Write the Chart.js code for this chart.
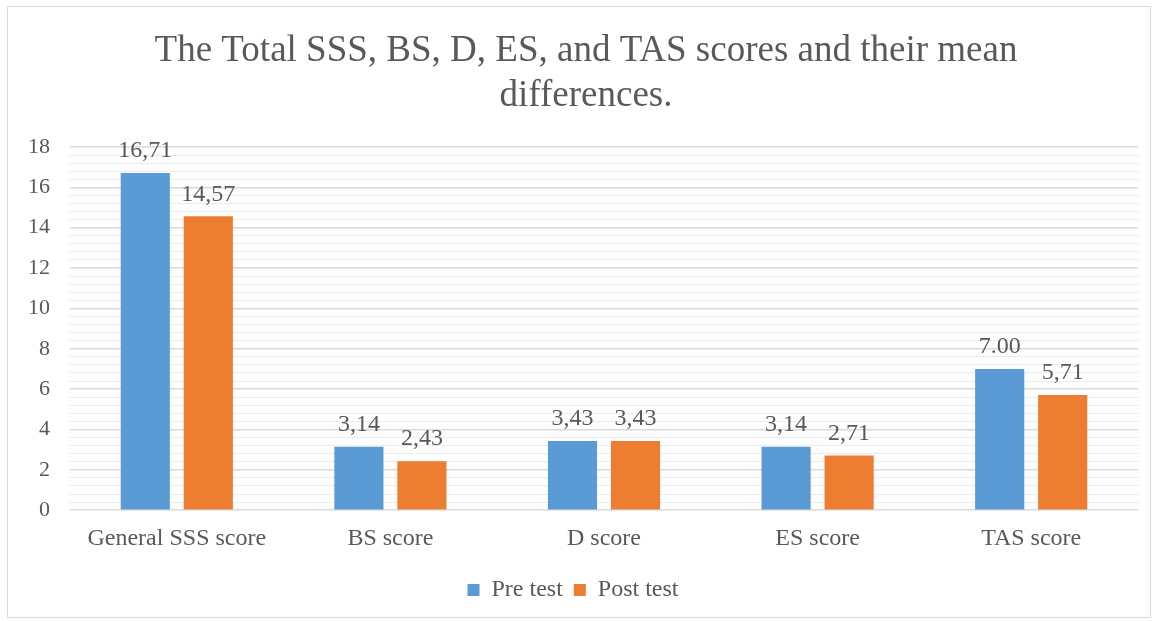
<!DOCTYPE html>
<html>
<head>
<meta charset="utf-8">
<script src="https://cdn.jsdelivr.net/npm/chart.js@4/dist/chart.umd.min.js"></script>
<style>
html,body{margin:0;padding:0;background:#fff;}
#frame{position:absolute;left:7px;top:6px;width:1144px;height:612px;border:1px solid #d9d9d9;box-sizing:border-box;}
#wrap{position:absolute;left:0;top:0;width:1158px;height:621px;}
</style>
</head>
<body>
<div id="frame"></div>
<div id="wrap"><canvas id="c" width="1158" height="621"></canvas></div>
<script>
const categories = ["General SSS score", "BS score", "D score", "ES score", "TAS score"];
const preValues = [16.71, 3.14, 3.43, 3.14, 7.00];
const postValues = [14.57, 2.43, 3.43, 2.71, 5.71];
const preLabels = ["16,71", "3,14", "3,43", "3,14", "7.00"];
const postLabels = ["14,57", "2,43", "3,43", "2,71", "5,71"];
const seriesNames = ["Pre test", "Post test"];
const titleLines = ["The Total SSS, BS, D, ES, and TAS scores and their mean", "differences."];

const FONT = "'Liberation Serif', 'Times New Roman', serif";
const TXT = "#595959";

const dataLabelPlugin = {
  id: 'dataLabels',
  afterDatasetsDraw(chart) {
    const ctx = chart.ctx;
    const labelSets = [preLabels, postLabels];
    ctx.save();
    ctx.font = "24px " + FONT;
    ctx.fillStyle = TXT;
    ctx.textAlign = 'center';
    ctx.textBaseline = 'bottom';
    chart.data.datasets.forEach((ds, i) => {
      const meta = chart.getDatasetMeta(i);
      meta.data.forEach((bar, j) => {
        ctx.fillText(labelSets[i][j], bar.x, bar.y - 10);
      });
    });
    ctx.restore();
  }
};

const titlePlugin = {
  id: 'customTitle',
  afterDraw(chart) {
    const ctx = chart.ctx;
    ctx.save();
    ctx.font = "37px " + FONT;
    ctx.fillStyle = TXT;
    ctx.textAlign = 'center';
    ctx.textBaseline = 'middle';
    ctx.fillText(titleLines[0], 586, 51);
    ctx.fillText(titleLines[1], 586, 96);
    ctx.restore();
  }
};

function isMajor(v) { return Math.abs(v / 2 - Math.round(v / 2)) < 1e-6; }

new Chart(document.getElementById('c'), {
  type: 'bar',
  data: {
    labels: categories,
    datasets: [
      { label: seriesNames[0], data: preValues, backgroundColor: '#5b9bd5', categoryPercentage: 0.59, barPercentage: 0.78 },
      { label: seriesNames[1], data: postValues, backgroundColor: '#ed7d31', categoryPercentage: 0.59, barPercentage: 0.78 }
    ]
  },
  options: {
    responsive: false,
    animation: false,
    layout: { padding: { left: 8, right: 20, top: 147, bottom: 9 } },
    plugins: {
      title: { display: false },
      legend: {
        position: 'bottom',
        labels: {
          color: TXT,
          font: { family: FONT, size: 24 },
          boxWidth: 12, boxHeight: 12,
          padding: 11
        }
      },
      tooltip: { enabled: false }
    },
    scales: {
      x: {
        grid: { display: false, drawTicks: false },
        border: { display: false },
        ticks: { color: TXT, font: { family: FONT, size: 24 }, padding: 14 }
      },
      y: {
        min: 0, max: 18,
        border: { display: false },
        grid: {
          drawTicks: false,
          color: ctx => (ctx.tick && isMajor(ctx.tick.value)) ? '#d9d9d9' : '#ececec',
          lineWidth: ctx => (ctx.tick && isMajor(ctx.tick.value)) ? 1.5 : 1
        },
        ticks: {
          stepSize: 0.4,
          autoSkip: false,
          color: TXT,
          font: { family: FONT, size: 22 },
          padding: 20,
          callback: v => isMajor(v) ? String(Math.round(v)) : ''
        }
      }
    }
  },
  plugins: [dataLabelPlugin, titlePlugin]
});
</script>
</body>
</html>
